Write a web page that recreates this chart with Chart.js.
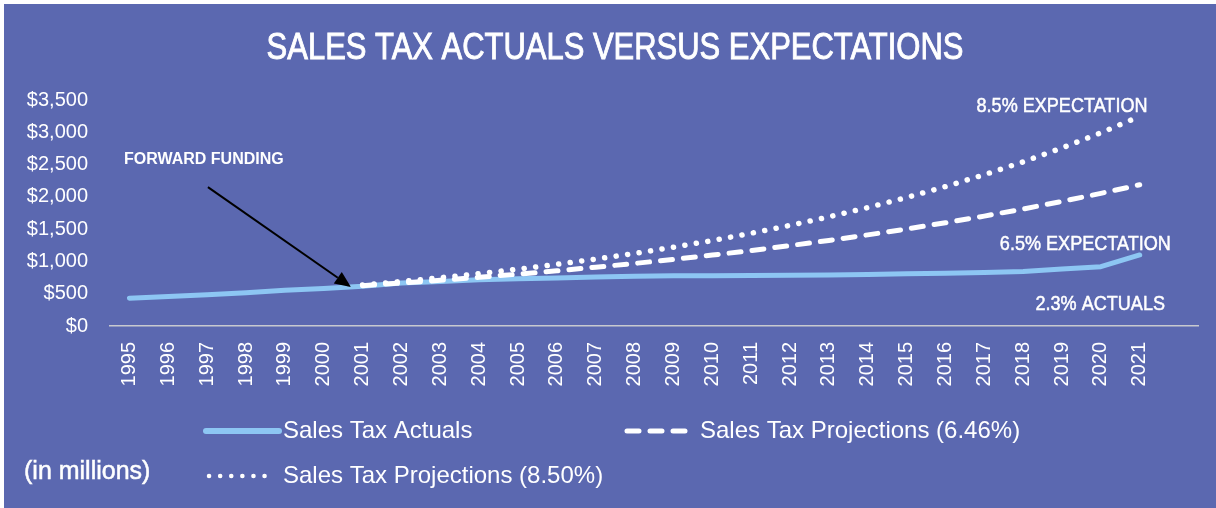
<!DOCTYPE html>
<html>
<head>
<meta charset="utf-8">
<script src="https://cdn.jsdelivr.net/npm/chart.js@4.4.1/dist/chart.umd.min.js"></script>
<style>
  body { margin: 0; background: #fff; }
  #wrap { position: absolute; left: 4px; top: 4px; width: 1212px; height: 504px; background: #5B68B0; }
</style>
</head>
<body>
<div id="wrap"><canvas id="chart" width="1212" height="504"></canvas></div>
<script>
// values in millions of dollars
var years = [1995, 1996, 1997, 1998, 1999, 2000, 2001, 2002, 2003, 2004, 2005, 2006, 2007, 2008,
             2009, 2010, 2011, 2012, 2013, 2014, 2015, 2016, 2017, 2018, 2019, 2020, 2021];
var actuals = [430, 455, 485, 515, 555, 580, 615, 665, 690, 715, 730, 745, 760, 770,
               778, 780, 782, 785, 790, 798, 808, 815, 828, 845, 882, 918, 1100];
var proj646 = [null, null, null, null, null, null, 625, 665, 708, 754, 803, 855, 910, 969,
               1031, 1098, 1169, 1245, 1325, 1411, 1502, 1599, 1702, 1812, 1929, 2054, 2187];
var proj850 = [null, null, null, null, null, null, 635, 689, 748, 811, 880, 955, 1036, 1124,
               1220, 1323, 1436, 1558, 1690, 1834, 1990, 2159, 2343, 2542, 2758, 2992, 3247];
var seriesNames = ['Sales Tax Actuals', 'Sales Tax Projections (6.46%)', 'Sales Tax Projections (8.50%)'];
var yTicks = [0, 500, 1000, 1500, 2000, 2500, 3000, 3500];

var titleText = 'SALES TAX ACTUALS VERSUS EXPECTATIONS';
var sans = '"Liberation Sans", Arial, sans-serif';

function points(values) {
    return years.map((yr, i) => ({ x: yr, y: values[i] }));
}

// no condensed face installed, so squeeze the text sideways (and thicken it a bit)
function narrowText(ctx, text, x, y, squeeze, thick) {
    ctx.save();
    ctx.translate(x, y);
    ctx.scale(squeeze, 1);
    ctx.fillText(text, 0, 0);
    if (thick) {
        ctx.strokeStyle = ctx.fillStyle;
        ctx.lineWidth = thick;
        ctx.strokeText(text, 0, 0);
    }
    ctx.restore();
}

// title, notes, arrow and legend drawn on top of the plot
var extras = {
    id: 'extras',
    afterDraw(chart) {
        var ctx = chart.ctx;
        var xs = chart.scales.x, ys = chart.scales.y;
        ctx.save();
        ctx.fillStyle = '#fff';
        ctx.textBaseline = 'middle';

        ctx.font = '36px ' + sans;
        ctx.textAlign = 'center';
        narrowText(ctx, titleText, 611, 45, 0.86, 0.9);

        ctx.font = '21px ' + sans;
        ctx.textAlign = 'right';
        narrowText(ctx, '8.5% EXPECTATION', xs.getPixelForValue(2021.2), ys.getPixelForValue(3405), 0.86, 0.5);
        narrowText(ctx, '6.5% EXPECTATION', xs.getPixelForValue(2021.8), ys.getPixelForValue(1270), 0.86, 0.5);
        narrowText(ctx, '2.3% ACTUALS', xs.getPixelForValue(2021.65), ys.getPixelForValue(340), 0.86, 0.5);

        ctx.font = 'bold 16px ' + sans;
        ctx.textAlign = 'left';
        ctx.fillText('FORWARD FUNDING', xs.getPixelForValue(1994.86), ys.getPixelForValue(2570));

        // arrow
        var x0 = xs.getPixelForValue(1997.02), y0 = ys.getPixelForValue(2150);
        var x1 = xs.getPixelForValue(2000.7), y1 = ys.getPixelForValue(605);
        var ang = Math.atan2(y1 - y0, x1 - x0);
        var hl = 16, hw = 7;
        var bx = x1 - hl * Math.cos(ang), by = y1 - hl * Math.sin(ang);
        ctx.strokeStyle = '#000';
        ctx.fillStyle = '#000';
        ctx.lineWidth = 2;
        ctx.beginPath();
        ctx.moveTo(x0, y0);
        ctx.lineTo(bx, by);
        ctx.stroke();
        ctx.beginPath();
        ctx.moveTo(x1, y1);
        ctx.lineTo(bx + hw * Math.sin(ang), by - hw * Math.cos(ang));
        ctx.lineTo(bx - hw * Math.sin(ang), by + hw * Math.cos(ang));
        ctx.closePath();
        ctx.fill();

        // legend
        var items = [
            { ds: 0, x0: 202, x1: 275, tx: 279, y: 427, w: 6, dash: [] },
            { ds: 1, x0: 623, x1: 682, tx: 696, y: 427, w: 5, dash: [12, 11] },
            { ds: 2, x0: 205, x1: 264, tx: 279, y: 472, w: 4.5, dash: [0.1, 11] }
        ];
        ctx.lineCap = 'round';
        items.forEach((it) => {
            var ds = chart.data.datasets[it.ds];
            ctx.strokeStyle = ds.borderColor;
            ctx.lineWidth = it.w;
            ctx.setLineDash(it.dash);
            ctx.beginPath();
            ctx.moveTo(it.x0, it.y);
            ctx.lineTo(it.x1, it.y);
            ctx.stroke();
            ctx.setLineDash([]);
            ctx.fillStyle = '#fff';
            ctx.font = '24px ' + sans;
            ctx.textAlign = 'left';
            ctx.fillText(ds.label, it.tx, it.y);
        });
        ctx.font = '25px ' + sans;
        narrowText(ctx, '(in millions)', 20, 468, 1, 0.5);
        ctx.restore();
    }
};

new Chart(document.getElementById('chart'), {
    type: 'line',
    data: {
        datasets: [{
            label: seriesNames[0],
            data: points(actuals),
            borderColor: '#8DC6F3',
            borderWidth: 5,
            borderCapStyle: 'round',
            borderJoinStyle: 'round',
            pointRadius: 0,
            order: 3
        }, {
            label: seriesNames[1],
            data: points(proj646),
            borderColor: '#ffffff',
            borderWidth: 5,
            borderDash: [12, 11],
            borderCapStyle: 'round',
            pointRadius: 0,
            order: 2
        }, {
            label: seriesNames[2],
            data: points(proj850),
            borderColor: '#ffffff',
            borderWidth: 5.5,
            borderDash: [0.1, 11.5],
            borderCapStyle: 'round',
            pointRadius: 0,
            order: 1
        }]
    },
    options: {
        responsive: false,
        animation: false,
        layout: { padding: { top: 96, right: 18, bottom: 0, left: 0 } },
        plugins: {
            legend: { display: false },
            title: { display: false },
            tooltip: { enabled: false }
        },
        scales: {
            x: {
                type: 'linear',
                min: 1994.5,
                max: 2022.5,
                afterBuildTicks: (scale) => { scale.ticks = years.map(v => ({ value: v })); },
                afterFit: (scale) => { scale.height = 182; },
                grid: { display: false, drawTicks: false },
                border: { color: '#C8C9CF', width: 1.5 },
                ticks: {
                    color: '#fff',
                    font: { family: sans, size: 20 },
                    minRotation: 90,
                    maxRotation: 90,
                    autoSkip: false,
                    padding: 16,
                    callback: (v) => String(v)
                }
            },
            y: {
                min: 0,
                max: 3500,
                afterBuildTicks: (scale) => { scale.ticks = yTicks.map(v => ({ value: v })); },
                afterFit: (scale) => { scale.width = 106; },
                grid: { display: false, drawTicks: false },
                border: { display: false },
                ticks: {
                    color: '#fff',
                    font: { family: sans, size: 20 },
                    padding: 22,
                    callback: (v) => '$' + v.toLocaleString('en-US')
                }
            }
        }
    },
    plugins: [extras]
});
</script>
</body>
</html>
